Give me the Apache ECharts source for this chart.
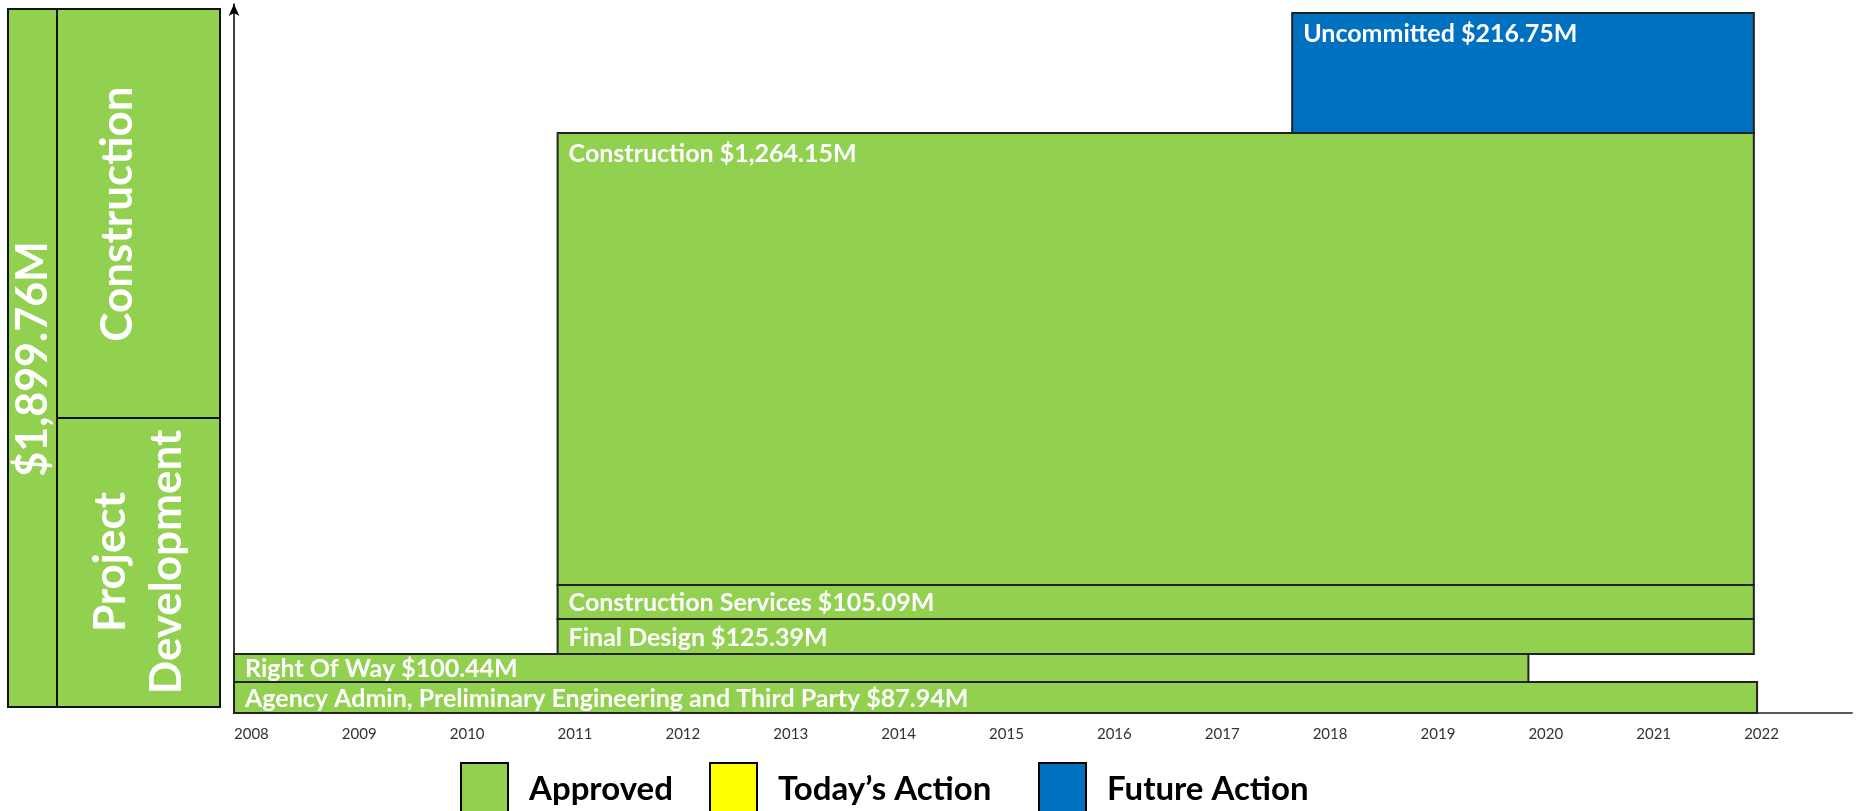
<!DOCTYPE html>
<html>
<head>
<meta charset="utf-8">
<script src="https://cdn.jsdelivr.net/npm/echarts@6/dist/echarts.min.js"></script>
<style>
  html, body { margin: 0; padding: 0; background: #fff; }
  #chart { width: 1858px; height: 811px; }
</style>
</head>
<body>
<div id="chart"></div>
<script>
// budget items, bottom to top
const items = [
  "Agency Admin, Preliminary Engineering and Third Party",
  "Right Of Way",
  "Final Design",
  "Construction Services",
  "Construction",
  "Uncommitted"
];
const amounts = [87.94, 100.44, 125.39, 105.09, 1264.15, 216.75];
const startYears = [2008, 2008, 2011, 2011, 2011, 2017.81];
const endYears = [2022.12, 2020, 2022.09, 2022.09, 2022.09, 2022.09];
// band heights as drawn in the picture (y units)
const bandHeights = [31, 28, 35, 34, 452, 120];
const statuses = ["Approved", "Approved", "Approved", "Approved", "Approved", "Future Action"];
const legendNames = ["Approved", "Today\u2019s Action", "Future Action"];
const legendColors = ["#92D050", "#FFFF00", "#0070C0"];
const phaseLabels = ["Construction", "Project\nDevelopment"];

const fmt = (v) => v.toLocaleString("en-US", { minimumFractionDigits: 2, maximumFractionDigits: 2 });
const total = amounts.reduce((a, b) => a + b, 0);

// stack the bands
let base = 0;
const rows = items.map((name, i) => {
  const row = [startYears[i], endYears[i], base, base + bandHeights[i], i];
  base += bandHeights[i];
  return row;
});

const renderBand = (color) => (params, api) => {
  const p0 = api.coord([api.value(0), api.value(2)]);
  const p1 = api.coord([api.value(1), api.value(3)]);
  const idx = api.value(4);
  const rect = { x: p0[0], y: p1[1], width: p1[0] - p0[0], height: p0[1] - p1[1] };
  const tall = rect.height > 60;
  return {
    type: "group",
    children: [
      { type: "rect", shape: rect, style: { fill: color, stroke: "#222", lineWidth: 2 } },
      {
        type: "text",
        x: rect.x + 11,
        y: tall ? rect.y + 8 : rect.y + rect.height / 2 + 1,
        style: {
          text: items[idx] + " $" + fmt(amounts[idx]) + "M",
          fill: "#fff",
          fontFamily: "Lato",
          fontWeight: "bold",
          fontSize: 25,
          align: "left",
          verticalAlign: tall ? "top" : "middle"
        }
      }
    ]
  };
};

const series = legendNames.map((name, k) => ({
  type: "custom",
  name: name,
  color: legendColors[k],
  renderItem: renderBand(legendColors[k]),
  encode: { x: [0, 1], y: [2, 3] },
  data: rows.filter((r) => statuses[r[4]] === name)
}));

const legendLeft = [460, 709, 1038];
const legends = legendNames.map((name, k) => ({
  left: legendLeft[k],
  top: 762,
  padding: 0,
  icon: "rect",
  itemWidth: 47,
  itemHeight: 52,
  selectedMode: false,
  data: [{ name: name, itemStyle: { color: legendColors[k], borderColor: "#000", borderWidth: 2 } }],
  textStyle: {
    fontFamily: "Lato",
    fontWeight: "bold",
    fontSize: 33,
    color: "#000",
    padding: [0, 0, 0, 16]
  }
}));

const green = legendColors[0];
const chart = echarts.init(document.getElementById("chart"));
chart.setOption({
  backgroundColor: "#fff",
  animation: false,
  grid: { left: 234, right: 6, top: 4, bottom: 98 },
  xAxis: {
    type: "value",
    min: 2008,
    max: 2023,
    interval: 1,
    axisLine: { lineStyle: { color: "#595959", width: 2 } },
    axisTick: { show: false },
    splitLine: { show: false },
    axisLabel: {
      showMaxLabel: false,
      align: "left",
      margin: 14,
      color: "#333",
      fontFamily: "Lato",
      fontSize: 15,
      formatter: (v) => String(v)
    }
  },
  yAxis: {
    type: "value",
    min: 0,
    max: 709,
    axisLine: {
      show: true,
      symbol: ["none", "arrow"],
      symbolSize: [8, 12],
      lineStyle: { color: "#000", width: 1.5 }
    },
    axisTick: { show: false },
    axisLabel: { show: false },
    splitLine: { show: false }
  },
  legend: legends,
  graphic: [
    { type: "rect", shape: { x: 8, y: 9, width: 49, height: 698 }, style: { fill: green, stroke: "#111", lineWidth: 2 } },
    { type: "rect", shape: { x: 57, y: 9, width: 163, height: 409 }, style: { fill: green, stroke: "#111", lineWidth: 2 } },
    { type: "rect", shape: { x: 57, y: 418, width: 163, height: 289 }, style: { fill: green, stroke: "#111", lineWidth: 2 } },
    {
      type: "text", x: 33, y: 359, rotation: Math.PI / 2,
      style: { text: "$" + fmt(total) + "M", fill: "#fff", fontFamily: "Lato", fontWeight: "bold", fontSize: 43, align: "center", verticalAlign: "middle" }
    },
    {
      type: "text", x: 118, y: 214, rotation: Math.PI / 2,
      style: { text: phaseLabels[0], fill: "#fff", fontFamily: "Lato", fontWeight: "bold", fontSize: 44, align: "center", verticalAlign: "middle" }
    },
    {
      type: "text", x: 139, y: 562, rotation: Math.PI / 2,
      style: { text: phaseLabels[1], fill: "#fff", fontFamily: "Lato", fontWeight: "bold", fontSize: 44, lineHeight: 56, align: "center", verticalAlign: "middle" }
    }
  ],
  series: series
});
</script>
</body>
</html>
